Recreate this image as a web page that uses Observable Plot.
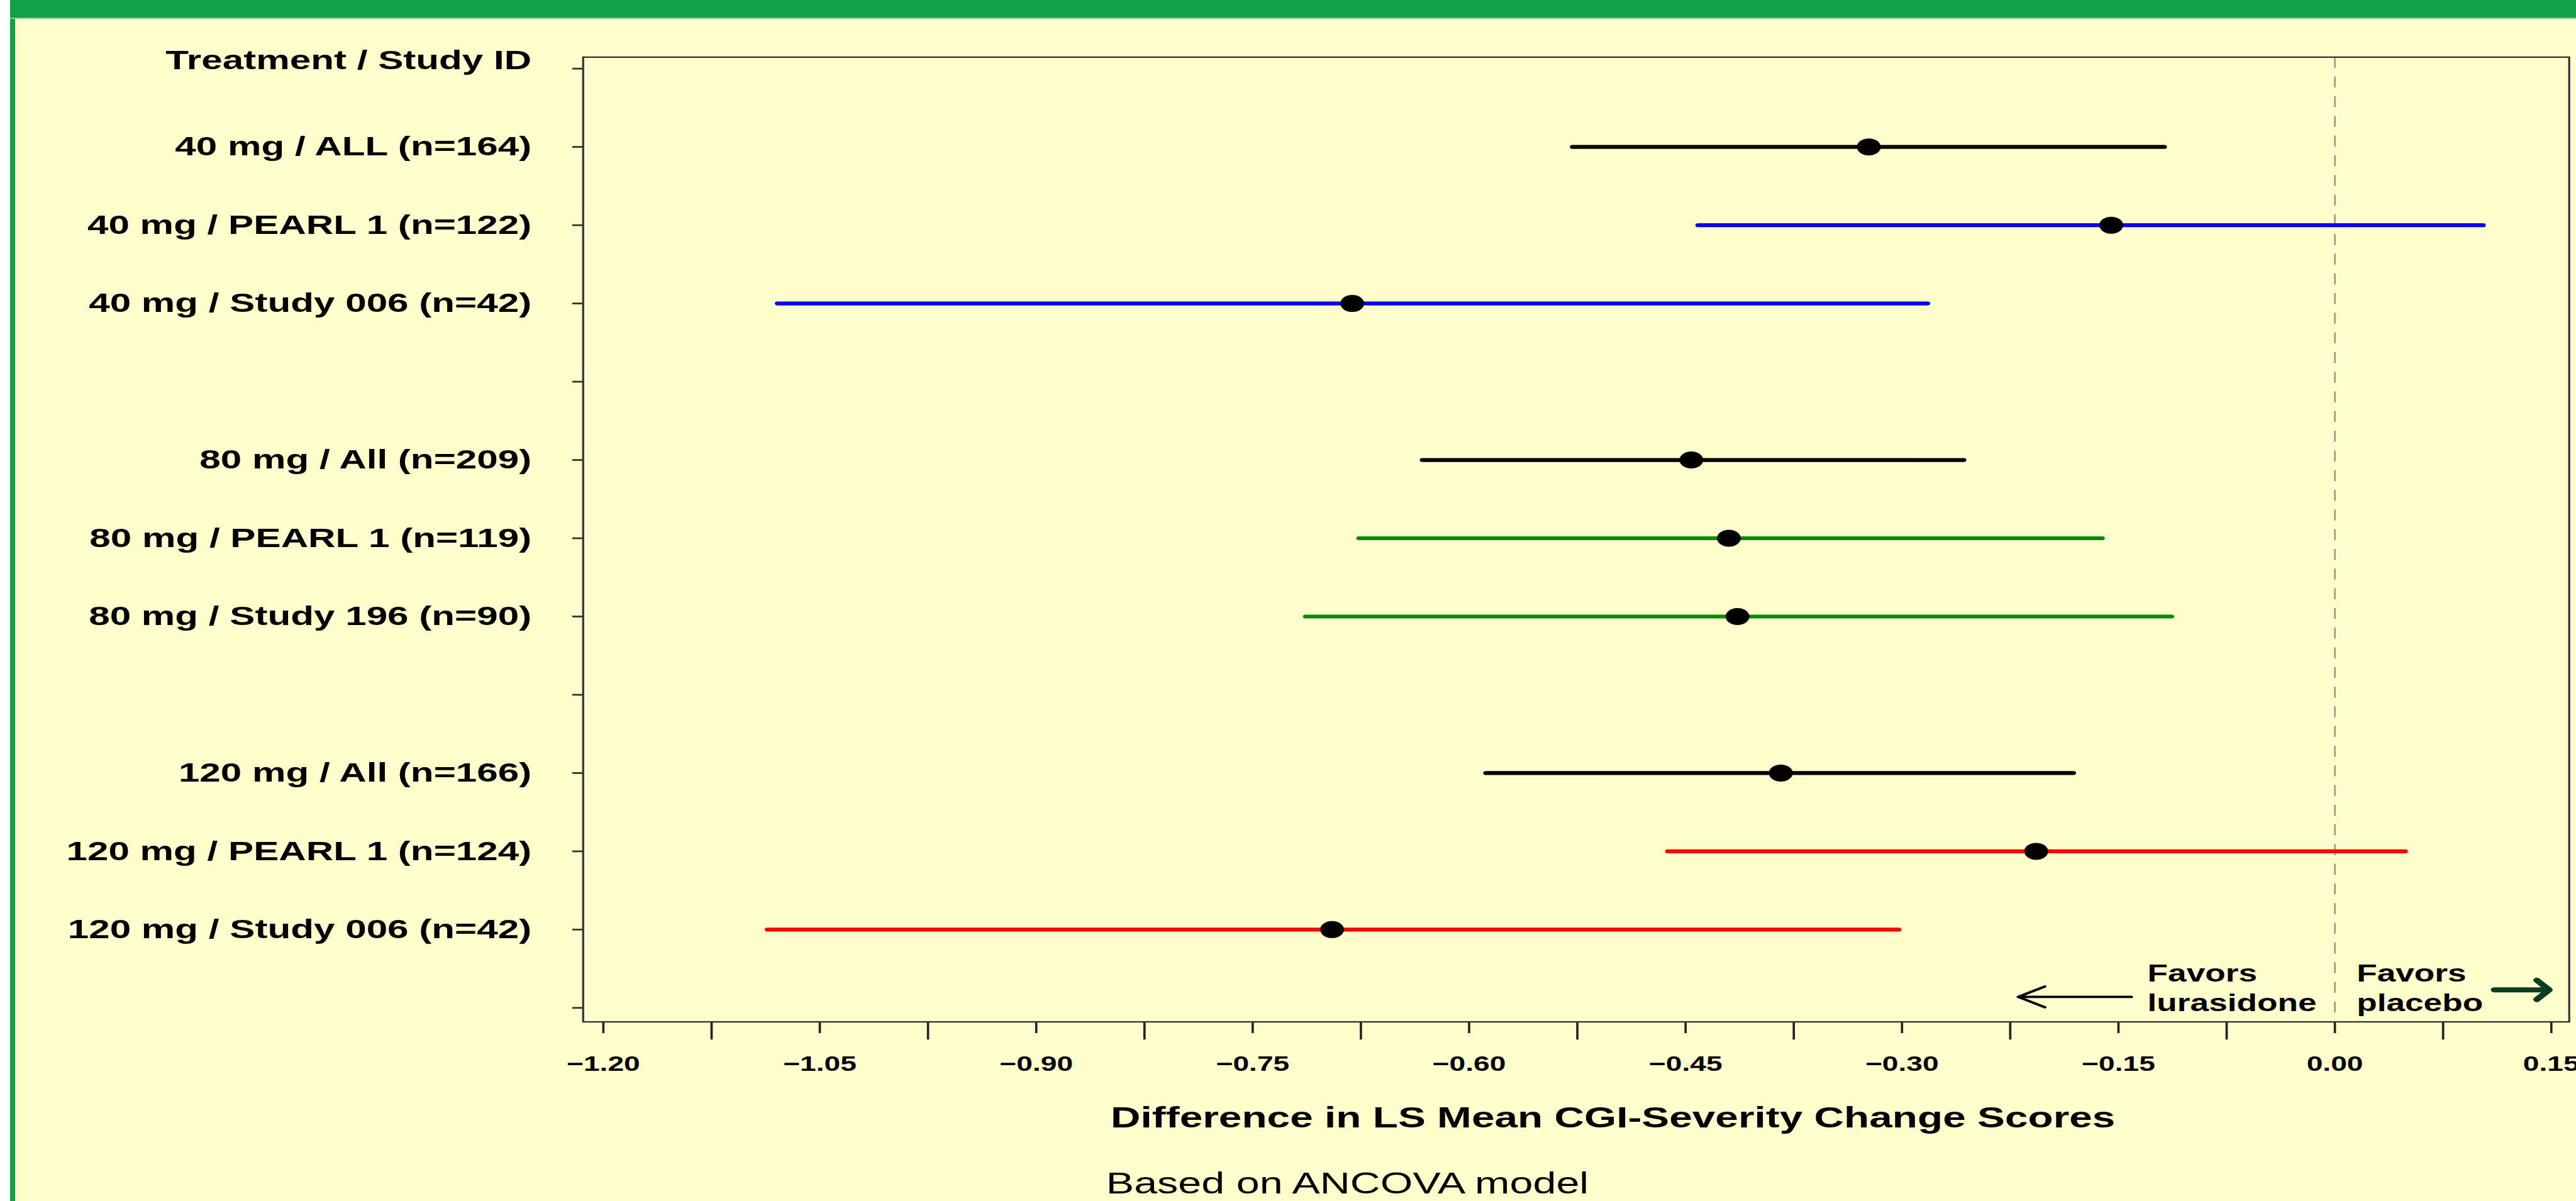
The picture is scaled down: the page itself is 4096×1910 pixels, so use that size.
<!DOCTYPE html>
<html>
<head>
<meta charset="utf-8">
<script src="https://cdn.jsdelivr.net/npm/d3@7"></script>
<script src="https://cdn.jsdelivr.net/npm/@observablehq/plot@0.6"></script>
<style>
  html, body { margin: 0; padding: 0; width: 4096px; height: 1910px; overflow: hidden; background: #fffdcc; }
  #page { position: relative; width: 4096px; height: 1910px; background: #fffdcc; }
  #leftWhite { position: absolute; left: 0; top: 0; width: 16px; height: 1910px; background: #ffffff; }
  #leftGreen { position: absolute; left: 16px; top: 0; width: 8px; height: 1910px; background: #14a04c; }
  #topGreen { position: absolute; left: 16px; top: 0; width: 4080px; height: 28px; background: #12a04a; border-bottom: 2px solid #86cf96; }
  #chart { position: absolute; left: 0; top: 0; }
</style>
</head>
<body>
<div id="page">
  <div id="leftWhite"></div>
  <div id="leftGreen"></div>
  <div id="topGreen"></div>
  <div id="chart"></div>
</div>
<script>
// ---- data ----
const rowLabels = [
  "Treatment / Study ID",
  "40 mg / ALL (n=164)",
  "40 mg / PEARL 1 (n=122)",
  "40 mg / Study 006 (n=42)",
  "",
  "80 mg / All (n=209)",
  "80 mg / PEARL 1 (n=119)",
  "80 mg / Study 196 (n=90)",
  "",
  "120 mg / All (n=166)",
  "120 mg / PEARL 1 (n=124)",
  "120 mg / Study 006 (n=42)",
  ""
];
const studies = [
  "40 mg / ALL (n=164)",
  "40 mg / PEARL 1 (n=122)",
  "40 mg / Study 006 (n=42)",
  "80 mg / All (n=209)",
  "80 mg / PEARL 1 (n=119)",
  "80 mg / Study 196 (n=90)",
  "120 mg / All (n=166)",
  "120 mg / PEARL 1 (n=124)",
  "120 mg / Study 006 (n=42)"
];
const series = ["All", "40 mg", "40 mg", "All", "80 mg", "80 mg", "All", "120 mg", "120 mg"];
const lsMeanDiff = [-0.323, -0.155, -0.681, -0.446, -0.420, -0.414, -0.384, -0.207, -0.695];
const ciLower    = [-0.528, -0.441, -1.079, -0.632, -0.676, -0.713, -0.588, -0.462, -1.086];
const ciUpper    = [-0.118,  0.103, -0.282, -0.257, -0.161, -0.113, -0.181,  0.049, -0.302];
const xTickValues = [-1.20, -1.05, -0.90, -0.75, -0.60, -0.45, -0.30, -0.15, 0.00, 0.15];
const xMinorTickValues = [-1.125, -0.975, -0.825, -0.675, -0.525, -0.375, -0.225, -0.075, 0.075];
const seriesNames = ["All", "40 mg", "80 mg", "120 mg"];
const referenceValue = 0;
const favorsLabels = ["Favors\nlurasidone", "Favors\nplacebo"];
const favorArrows = [
  {x1: -0.141, x2: -0.2195, y: 11.86},
  {x1: 0.1105, x2: 0.1485, y: 11.77}
];
const axisTitle = "Difference in LS Mean CGI-Severity Change Scores";
const captionText = "Based on ANCOVA model";

// ---- build ----
const table = studies.map((s, i) => ({
  study: s,
  row: rowLabels.indexOf(s),
  series: series[i],
  est: lsMeanDiff[i],
  lo: ciLower[i],
  hi: ciUpper[i]
}));
const rowIndex = rowLabels.map((_, i) => i);

const OUT_W = 4096, OUT_H = 1910;
const W = 2926;            // logical width; the whole chart is stretched horizontally like the original

const chart = Plot.plot({
  width: W,
  height: OUT_H,
  marginLeft: 661.9,
  marginRight: 8.2,
  marginTop: 90.4,
  marginBottom: 285.4,
  style: {background: "transparent", color: "black", fontFamily: "'Liberation Sans', Arial, Helvetica, sans-serif", overflow: "visible"},
  x: {domain: [-1.214, 0.1624]},
  y: {domain: [12.179, -0.147]},
  color: {domain: seriesNames, range: ["#000000", "#0000ff", "#008b00", "#ff0000"]},
  marks: [
    Plot.ruleX([referenceValue], {stroke: "#7a7a7a", strokeWidth: 1.4, strokeDasharray: "17.5,13.8"}),
    Plot.ruleY(table, {y: "row", x1: "lo", x2: "hi", stroke: "series", strokeWidth: 6.2, strokeLinecap: "round"}),
    Plot.dot(table, {x: "est", y: "row", r: 13.5, fill: "black", stroke: "none"}),
    Plot.axisY({ticks: rowIndex, tickFormat: i => (i === 0 ? "" : rowLabels[i]), tickSize: 11.9, tickPadding: 46.7,
      fontSize: 43, fontWeight: "bold", strokeWidth: 2.8, stroke: "#333", label: null}),
    Plot.text([0], {y: d => d, text: d => rowLabels[d], frameAnchor: "left", textAnchor: "end", dx: -58.6,
      lineAnchor: "bottom", dy: 1, fontSize: 43, fontWeight: "bold", fill: "black"}),
    Plot.axisX({ticks: xTickValues, tickFormat: d3.format(".2f"), tickSize: 18.4, tickPadding: 36,
      fontSize: 33, fontWeight: "bold", strokeWidth: 2.6, stroke: "#222", label: null}),
    Plot.axisX({ticks: xMinorTickValues, tickFormat: () => "", tickSize: 28.6, strokeWidth: 2.6, stroke: "#222", label: null}),
    Plot.frame({stroke: "#333", strokeWidth: 2.3}),
    Plot.arrow(favorArrows.slice(0, 1), {x1: "x1", x2: "x2", y1: "y", y2: "y", stroke: "black", strokeWidth: 3.7, headAngle: 57, headLength: 14}),
    Plot.arrow(favorArrows.slice(1), {x1: "x1", x2: "x2", y1: "y", y2: "y", stroke: "#0b3d20", strokeWidth: 8, headAngle: 95, headLength: 20}),
    Plot.text(favorsLabels.slice(0, 1), {x: () => referenceValue, text: d => d, frameAnchor: "bottom", textAnchor: "start",
      dx: -212.9, dy: -17.5, lineAnchor: "bottom", lineHeight: 1.22, fontSize: 38, fontWeight: "bold", fill: "black"}),
    Plot.text(favorsLabels.slice(1), {x: () => referenceValue, text: d => d, frameAnchor: "bottom", textAnchor: "start",
      dx: 24.7, dy: -17.5, lineAnchor: "bottom", lineHeight: 1.22, fontSize: 38, fontWeight: "bold", fill: "black"}),
    Plot.text([axisTitle], {text: d => d, frameAnchor: "bottom", dx: 41.8, dy: 152.7, lineAnchor: "middle",
      fontSize: 47, fontWeight: "bold", fill: "black"}),
    Plot.text([captionText], {text: d => d, frameAnchor: "bottom-left", textAnchor: "start", dx: 594, dy: 258,
      lineAnchor: "middle", fontSize: 47.5, fontWeight: "normal", fill: "black"})
  ]
});

chart.setAttribute("width", OUT_W);
chart.setAttribute("height", OUT_H);
chart.setAttribute("preserveAspectRatio", "none");
chart.style.width = OUT_W + "px";
chart.style.height = OUT_H + "px";
chart.style.maxWidth = "none";
chart.style.display = "block";
document.getElementById("chart").appendChild(chart);
</script>
</body>
</html>
